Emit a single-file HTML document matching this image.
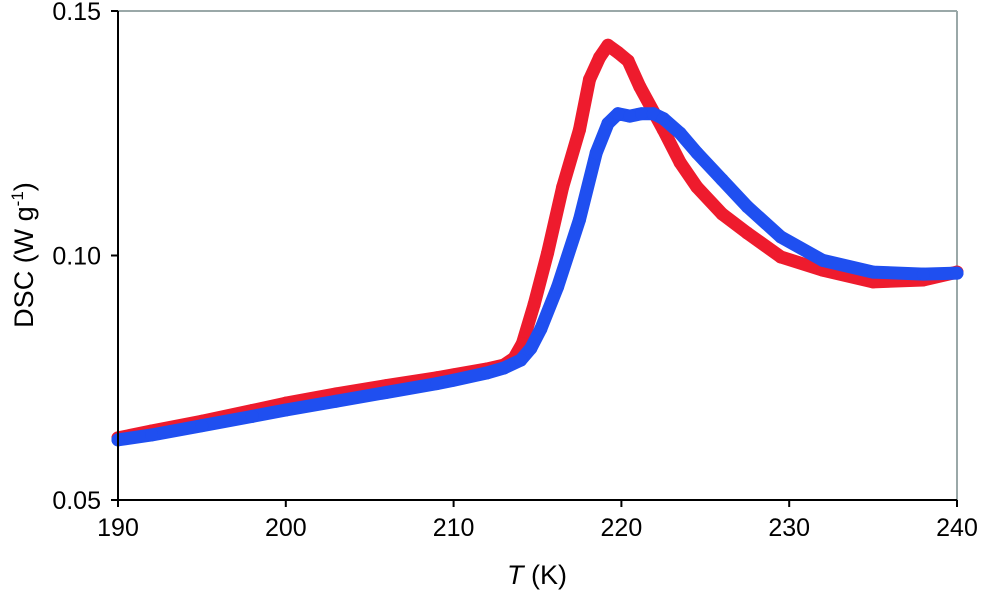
<!DOCTYPE html>
<html><head><meta charset="utf-8"><style>
body{margin:0;background:#fff}
svg{display:block;font-family:"Liberation Sans",Arial,sans-serif}
</style></head><body>
<svg id="chart" width="981" height="592" viewBox="0 0 981 592" xmlns="http://www.w3.org/2000/svg">
<g id="frame">
<line x1="118" y1="11" x2="957" y2="11" stroke="#9aa8a8" stroke-width="2"/>
<line x1="957" y1="11" x2="957" y2="500" stroke="#9aa8a8" stroke-width="2"/>
</g>
<g id="series"></g>
<g id="axes">
<line x1="118" y1="11" x2="118" y2="500" stroke="#000" stroke-width="2"/>
<line x1="118" y1="500" x2="957" y2="500" stroke="#000" stroke-width="2"/>
</g>
<text transform="translate(33,255) rotate(-90)" text-anchor="middle" font-size="27">DSC (W g<tspan dy="-10" font-size="17">-1</tspan><tspan dy="10">)</tspan></text>
<text x="537" y="584" text-anchor="middle" font-size="27"><tspan font-style="italic">T</tspan> (K)</text>
</svg>
<script>
const xTicks=[190,200,210,220,230,240];
const yTicks=[0.05,0.10,0.15];
const yTickLabels=["0.05","0.10","0.15"];
const redT=[190,192,195,198,200,203,206,209,210,212,213,213.6,214.1,214.8,215.6,216.5,217.5,218.1,218.7,219.2,219.8,220.4,221.1,222.5,223.5,224.5,226,227.5,229.5,232,235,238,240];
const redV=[0.0627,0.0641,0.0661,0.0683,0.0698,0.0717,0.0734,0.0750,0.0756,0.0768,0.0776,0.0790,0.0820,0.0900,0.1005,0.1140,0.1257,0.1360,0.1405,0.1430,0.1415,0.1398,0.1345,0.1257,0.1190,0.1140,0.1085,0.1046,0.0997,0.0970,0.0946,0.0950,0.0966];
const blueT=[190,192,195,198,200,203,206,209,210,212,213,214,214.6,215.2,216.2,217.5,218.5,219.2,219.8,220.5,221.2,221.9,222.5,223.5,224.5,226,227.5,229.5,232,235,238,240];
const blueV=[0.0623,0.0633,0.0652,0.0671,0.0684,0.0702,0.0720,0.0738,0.0745,0.0760,0.0770,0.0786,0.0810,0.0850,0.0936,0.1073,0.1210,0.1270,0.1290,0.1285,0.1290,0.1290,0.1280,0.1250,0.1210,0.1155,0.1100,0.1038,0.0990,0.0966,0.0962,0.0964];
const NS="http://www.w3.org/2000/svg";
const X=t=>118+(t-190)*(957-118)/50;
const Y=v=>500-(v-0.05)*(500-11)/0.1;
const svg=document.getElementById('chart');
const axes=document.getElementById('axes');
const ser=document.getElementById('series');
function mk(tag,attrs,parent){const e=document.createElementNS(NS,tag);for(const k in attrs)e.setAttribute(k,attrs[k]);parent.appendChild(e);return e;}
xTicks.forEach(t=>{
  const l=mk('line',{x1:X(t),x2:X(t),y1:500,y2:507,stroke:'#000','stroke-width':2},axes);
  
  
  const tx=mk('text',{x:X(t),y:536,'text-anchor':'middle','font-size':25},svg);
  tx.textContent=t;
  
  
});
yTicks.forEach((v,i)=>{
  const l=mk('line',{x1:111,x2:118,y1:Y(v),y2:Y(v),stroke:'#000','stroke-width':2},axes);
  
  
  const tx=mk('text',{x:101,y:Y(v)+9,'text-anchor':'end','font-size':25},svg);
  tx.textContent=yTickLabels[i];
  
  
});
function drawSeries(T,V,color,name){
  const g=mk('g',{},ser);
  
  
  const pts=T.map((t,i)=>X(t)+','+Y(V[i])).join(' ');
  const pl=mk('polyline',{points:pts,fill:'none',stroke:color,'stroke-width':13,'stroke-linejoin':'round','stroke-linecap':'round'},g);
  
  
  T.forEach((t,i)=>{
    const c=mk('circle',{cx:X(t),cy:Y(V[i]),r:6.5,fill:color},g);
    
    
  });
}
drawSeries(redT,redV,'#ee1b2d','red-series');
drawSeries(blueT,blueV,'#1f4ff0','blue-series');
</script>
</body></html>
